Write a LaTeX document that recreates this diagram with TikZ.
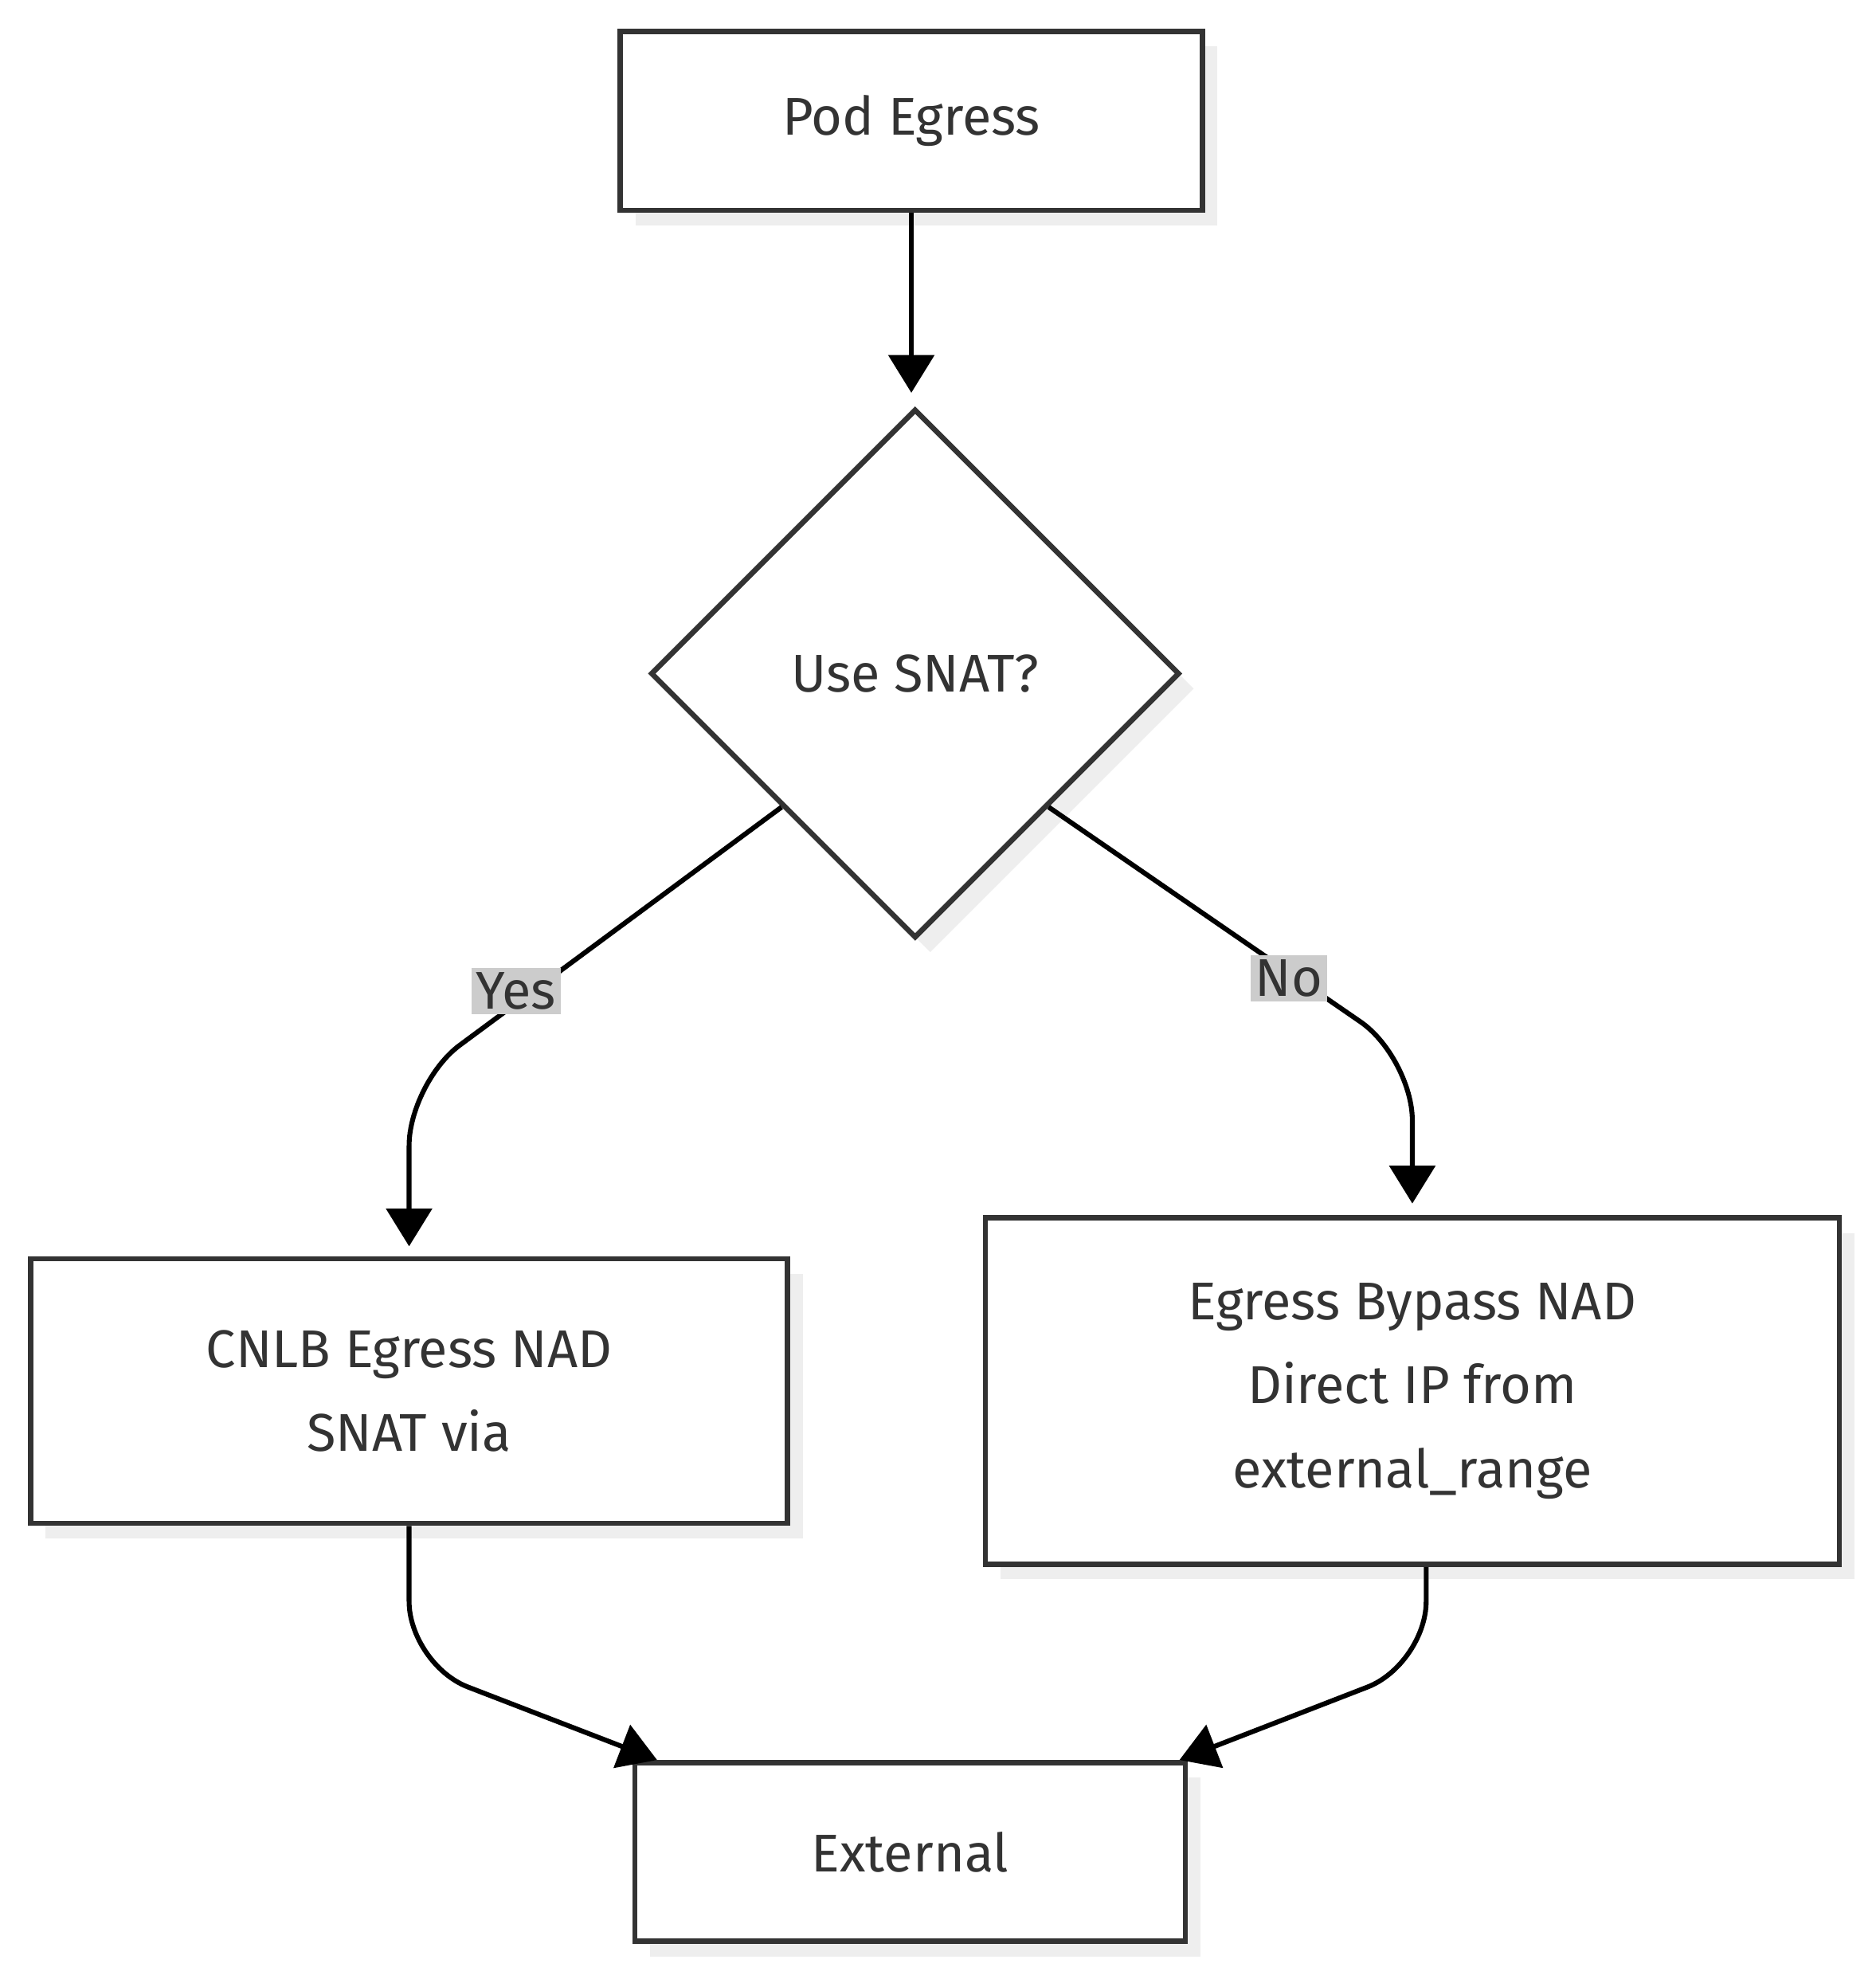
\documentclass[tikz,border=0pt]{standalone}
\usepackage{fontspec}
\setmainfont{Fira Sans}
\usetikzlibrary{shapes.geometric,arrows.meta}
\definecolor{edgegray}{HTML}{333333}
\definecolor{shadowgray}{HTML}{EEEEEE}
\definecolor{labelgray}{HTML}{CCCCCC}
\tikzset{
  box/.style = {
  draw = edgegray,
  line width = 1.2pt,
  fill = white,
  align = center,
  inner sep = 0pt,
  font = \fontsize{12}{19}\selectfont\color{edgegray},
  drop shadow = {shadow xshift=0.12cm, shadow yshift=-0.12cm, fill=shadowgray, opacity=1}},
  decision/.style = {box, diamond, minimum width=4.2cm, minimum height=4.2cm, aspect=1},
  link/.style = {line width=1.1pt, rounded corners=0.5cm, -{Triangle[length=0.3cm, width=0.36cm]}},
  tag/.style = {fill=labelgray, inner sep=1pt, font=\fontsize{12}{14}\selectfont\color{edgegray}}
}
\usetikzlibrary{shadows}
\begin{document}
\begin{tikzpicture}[x=0.01cm, y=-0.01cm]
  \useasboundingbox (0,0) rectangle (1490,1572);
  \node[box, minimum width=4.62cm, minimum height=1.42cm] (pod) at (724,96) {Pod Egress};
  \node[decision] (snat) at (727,535) {Use SNAT?};
  \node[box, minimum width=6.01cm, minimum height=2.10cm] (cnlb) at (325,1105) {CNLB Egress NAD\\SNAT via};
  \node[box, minimum width=6.78cm, minimum height=2.75cm] (bypass) at (1122,1105) {Egress Bypass NAD\\Direct IP from\\external\_range};
  \node[box, minimum width=4.37cm, minimum height=1.42cm] (ext) at (723,1471) {External};
  \coordinate (yesend) at (325,990);
  \coordinate (noend) at (1122,956);
  \coordinate (extl) at (522,1398);
  \coordinate (extr) at (937,1398);
  \draw[link] (pod) -- (724,312);
  \draw[link] (snat.south west) ++(0,0) -- (325,860) -- (yesend);
  \draw[link] (snat.south east) -- (1122,840) -- (noend);
  \draw[link] (cnlb.south) -- (325,1322) -- (extl);
  \draw[link] (bypass.south -| 1133,0) -- (1133,1322) -- (extr);
  \node[tag] (yes) at (410,787) {Yes};
  \node[tag] (no) at (1024,777) {No};
\end{tikzpicture}
\end{document}
